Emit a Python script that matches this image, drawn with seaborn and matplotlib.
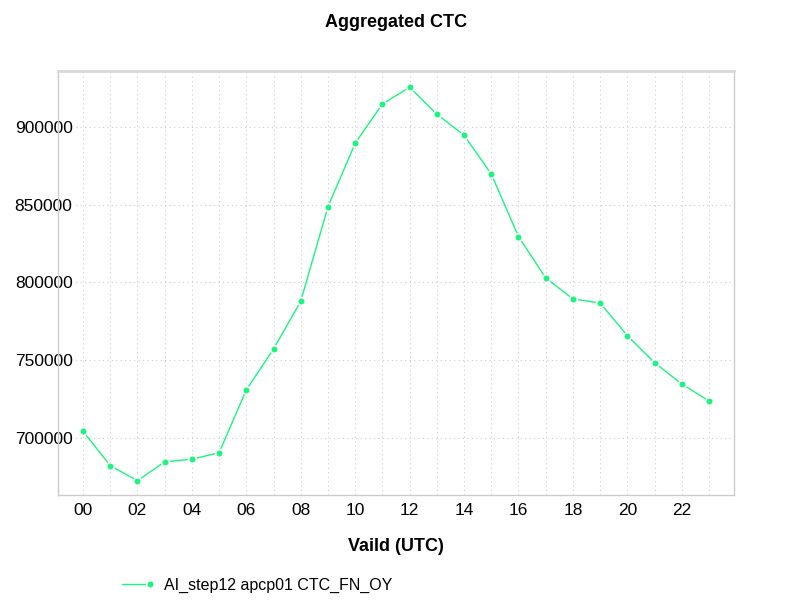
import numpy as np
import pandas as pd
import matplotlib
matplotlib.use("Agg")
import matplotlib.pyplot as plt
from matplotlib.ticker import MultipleLocator, FuncFormatter
from matplotlib.legend_handler import HandlerLine2D
import seaborn as sns

# données
hours = list(range(24))
ctc_values = [704300, 682200, 672500, 684600, 686300, 690500, 730900, 757200,
              787900, 848700, 889500, 914800, 925500, 908200, 894700, 869800,
              829500, 802900, 789400, 786800, 765800, 748400, 734700, 723800]
series_name = "AI_step12 apcp01 CTC_FN_OY"

df = pd.DataFrame({"hour": hours, "ctc": ctc_values, "series": series_name})


class EndMarkerHandler(HandlerLine2D):
    """Légende : marqueur au bout de la ligne, pas au milieu."""
    def create_artists(self, *args, **kwargs):
        artists = super().create_artists(*args, **kwargs)
        for a in artists:
            a.set_markevery([2])
        return artists


sns.set_style("white")
plt.rcParams["font.family"] = ["Liberation Sans", "DejaVu Sans"]
plt.rcParams["text.color"] = "black"
plt.rcParams["xtick.color"] = "black"
plt.rcParams["ytick.color"] = "black"
plt.rcParams["axes.labelcolor"] = "black"

fig = plt.figure(figsize=(7.92, 6.12), dpi=100)
ax = fig.add_axes([0.0732, 0.1912, 0.8536, 0.6928])

sns.lineplot(data=df, x="hour", y="ctc", hue="series", palette=["#19f57f"],
             marker="o", markersize=5.5, markeredgecolor="white", markeredgewidth=1.2,
             linewidth=1.0, ax=ax, legend=True)

ax.set_xlim(-0.92, 23.92)
ax.set_ylim(663300, 936000)
ax.xaxis.set_major_locator(MultipleLocator(2))
ax.xaxis.set_minor_locator(MultipleLocator(1))
ax.xaxis.set_major_formatter(FuncFormatter(lambda v, p: f"{int(v):02d}"))
ax.yaxis.set_major_locator(MultipleLocator(50000))
ax.yaxis.set_major_formatter(FuncFormatter(lambda v, p: f"{int(v)}"))
ax.tick_params(axis="both", which="both", length=0, labelsize=12.5)
ax.tick_params(axis="x", pad=6)
ax.tick_params(axis="y", pad=-10.5)

ax.grid(True, which="both", axis="x", linestyle=(0, (1, 3)), color="#cccccc", linewidth=0.8)
ax.grid(True, which="major", axis="y", linestyle=(0, (1, 3)), color="#cccccc", linewidth=0.8)

for lbl in ax.get_yticklabels():
    lbl.set_bbox(dict(facecolor="white", edgecolor="none", pad=1.5))
    lbl.set_zorder(5)

for side in ["top", "right", "left", "bottom"]:
    ax.spines[side].set_visible(True)
    ax.spines[side].set_color("#cccccc")
    ax.spines[side].set_linewidth(1.0)
ax.spines["top"].set_color("#d8d8d8")
ax.spines["top"].set_linewidth(2.0)

ax.set_xlabel("Vaild (UTC)", fontsize=13, fontweight="bold", labelpad=14)
ax.set_ylabel("")
fig.suptitle("Aggregated CTC", fontsize=13, fontweight="bold", y=0.977)

handles, labels = ax.get_legend_handles_labels()
ax.get_legend().remove()
fig.legend(handles, labels, loc="center left", bbox_to_anchor=(0.154, 0.044),
           frameon=False, fontsize=11.5, handlelength=1.75, handletextpad=0.9,
           borderpad=0, borderaxespad=0,
           handler_map={type(handles[0]): EndMarkerHandler()})

fig.savefig("out.png", dpi=100)
